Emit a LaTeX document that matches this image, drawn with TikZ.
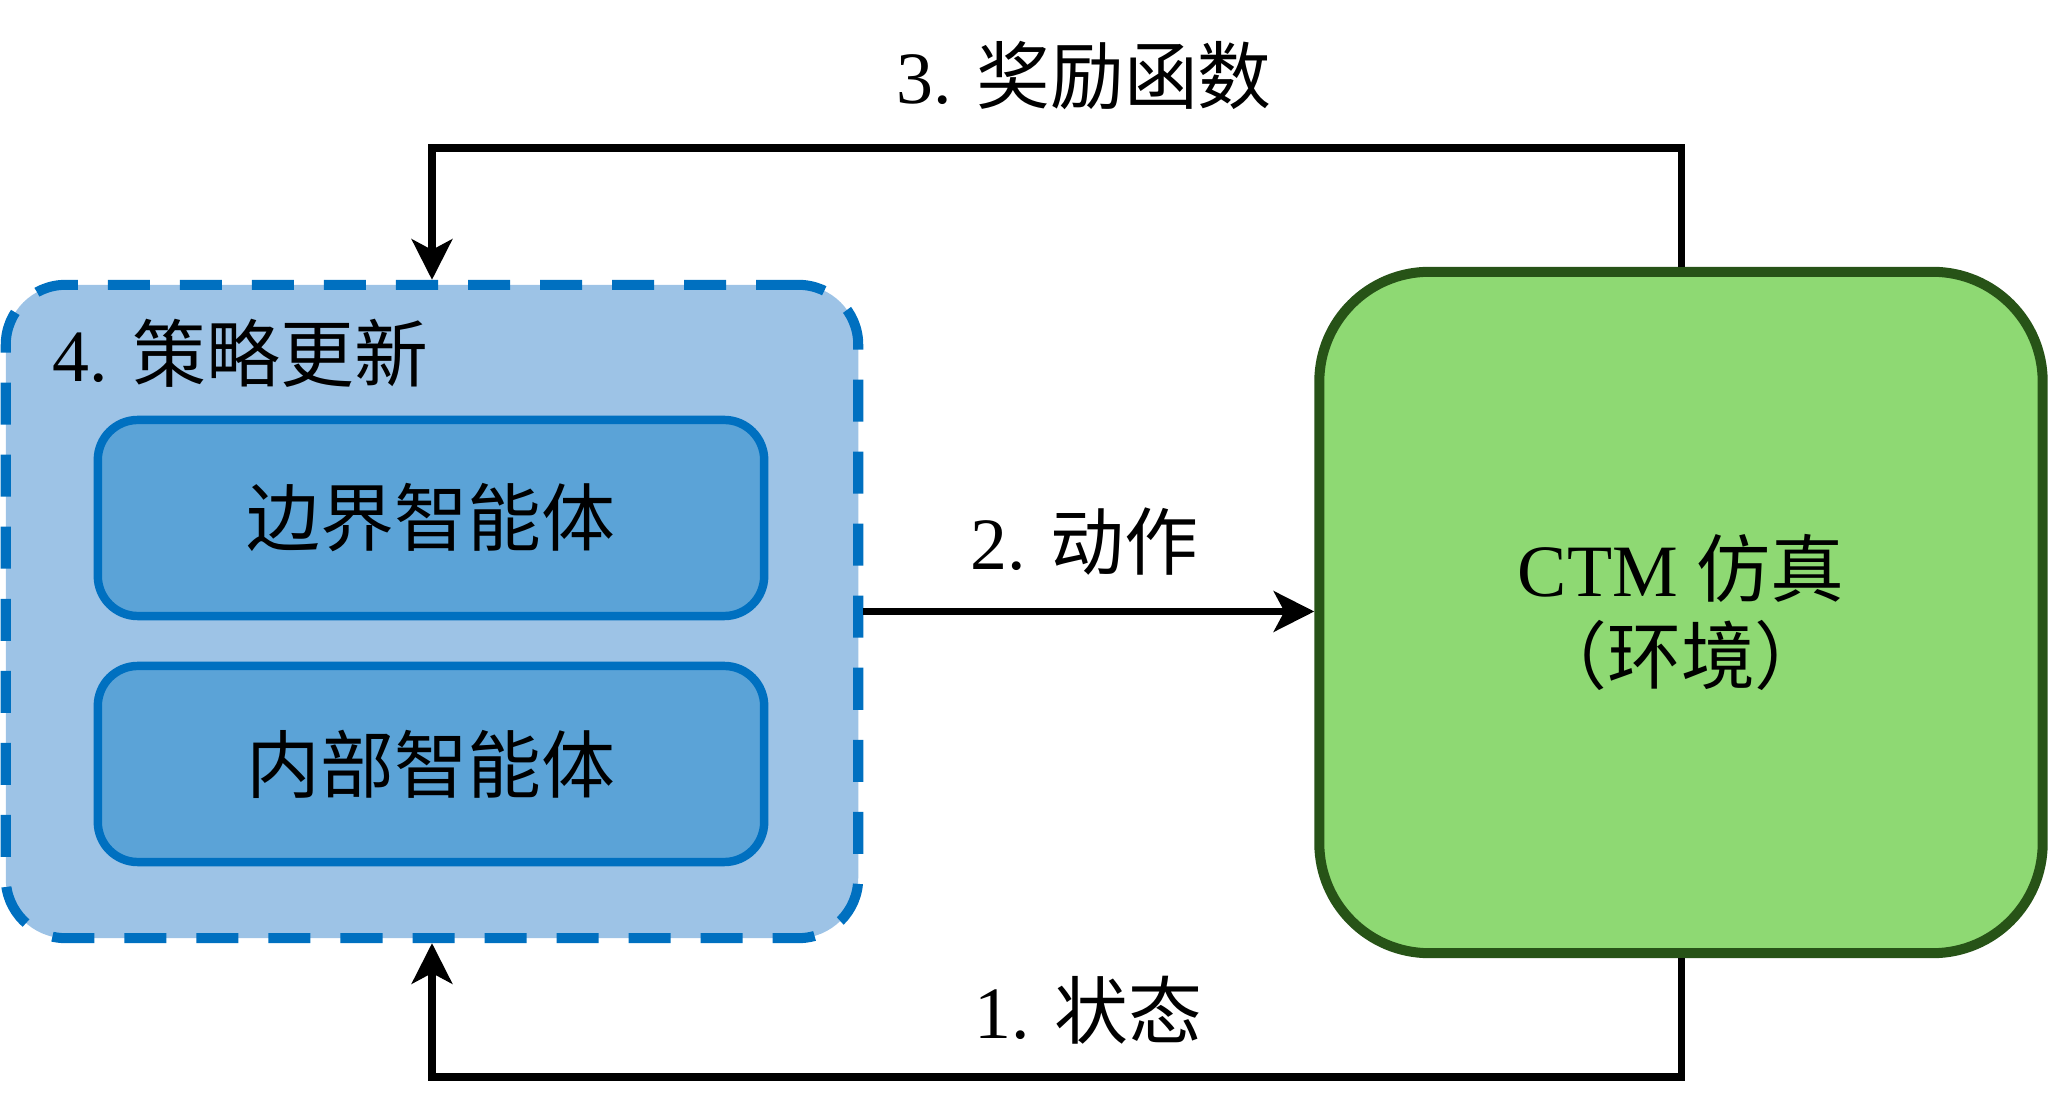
\documentclass[tikz,border=0pt]{standalone}
\usepackage{fontspec}
\setmainfont{Liberation Serif}
\newfontfamily\cjk{Noto Sans CJK SC}
\usetikzlibrary{arrows.meta}
\definecolor{outerfill}{HTML}{9DC3E6}
\definecolor{innerfill}{HTML}{5BA3D7}
\definecolor{blueline}{HTML}{0070C0}
\definecolor{envfill}{HTML}{8ED973}
\definecolor{envline}{HTML}{275317}
\tikzstyle{txt} = [font=\fontsize{21pt}{25pt}\selectfont, inner sep=0pt]
\tikzstyle{group} = [draw=blueline, fill=outerfill, line width=2.85pt, dash pattern=on 0.42cm off 0.3cm, rounded corners=0.6cm, minimum width=8.52cm, minimum height=6.53cm, inner sep=0pt]
\tikzstyle{agent} = [txt, draw=blueline, fill=innerfill, line width=2.4pt, rounded corners=0.4cm, minimum width=6.66cm, minimum height=1.96cm]
\tikzstyle{envbox} = [txt, draw=envline, fill=envfill, line width=2.85pt, rounded corners=1.1cm, minimum width=7.23cm, minimum height=6.81cm, align=center]
\tikzstyle{flow} = [line width=2pt, -{Stealth[length=11.5pt, width=11.5pt, inset=3pt]}]

\begin{document}
\begin{tikzpicture}[x=0.01cm, y=-0.01cm]
    \useasboundingbox (0,0) rectangle (2048,1101);

    % agents
    \node[group] (agents) at (432,611.5) {};
    \node[txt, anchor=west] (update) at (52,353) {4. {\cjk 策略更新}};
    \node[agent] (border) at (431,518) {\cjk 边界智能体};
    \node[agent] (inner) at (431,764) {\cjk 内部智能体};

    % environment
    \node[envbox] (env) at (1681,612.5) {CTM {\cjk 仿真}\\{\cjk （环境）}};

    % loop
    \draw[flow] (env.north) -- (env.north |- 0,148) -| (agents.north);
    \draw[flow] (agents.east) -- (agents.east -| env.west);
    \draw[flow] (env.south) -- (env.south |- 0,1077) -| (agents.south);

    \node[txt] (reward) at (1084,76) {3. {\cjk 奖励函数}};
    \node[txt] (action) at (1084,542) {2. {\cjk 动作}};
    \node[txt] (state) at (1088,1010) {1. {\cjk 状态}};
\end{tikzpicture}
\end{document}
